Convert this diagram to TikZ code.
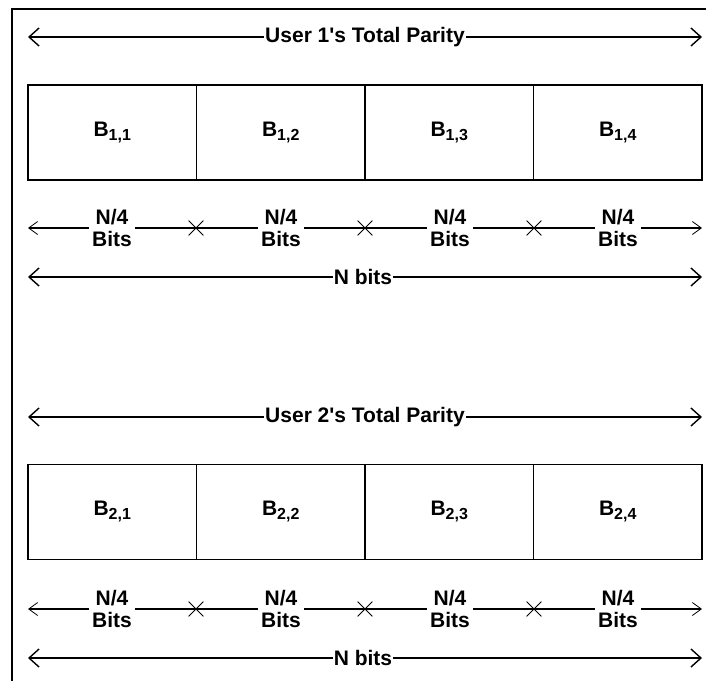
\documentclass[tikz,border=0pt]{standalone}
\usepackage{fontspec}
\setmainfont{Liberation Sans}
\usetikzlibrary{arrows.meta,shapes.misc}

\newcommand{\blk}[2]{B\raisebox{-4pt}{\fontsize{16}{16}\selectfont #1,#2}}
% straight apostrophe glyph, placed directly so no quote mapping applies
\newcommand{\apos}{\XeTeXglyph\XeTeXcharglyph"0027\relax}

\tikzset{
  lbl/.style={font=\bfseries\fontsize{21}{24}\selectfont, fill=white, inner sep=0pt, inner xsep=1pt},
  half/.style={lbl, align=center, inner xsep=3pt},
  span/.style={line width=1.9pt, -{Straight Barb[length=10pt,width=18pt,line width=1.4pt]}},
  part/.style={line width=1.1pt},
  parttip/.style={line width=1.1pt, -{Straight Barb[length=9pt,width=13pt,line width=0.8pt]}},
  blockbox/.style={draw, line width=1.4pt, minimum width=168.5pt, minimum height=95pt, inner sep=0pt,
                   outer sep=0pt, font=\bfseries\fontsize{21}{24}\selectfont},
  sep/.style={cross out, draw, line width=0.8pt, minimum size=14pt, inner sep=0pt},
}

\begin{document}
\begin{tikzpicture}[x=1pt, y=-1pt]
\useasboundingbox (0,0) rectangle (706,681);

% page frame (top and left edges)
\draw[line width=1.4pt] (706,9) -- (12,9) -- (12,681);

% ---------- user 1 ----------
\node[lbl] (u1t) at (365,37) {User 1\apos s Total Parity};
\coordinate (u1l) at (28,37);
\coordinate (u1r) at (702,37);
\draw[span] (u1t.west) -- (u1l);
\draw[span] (u1t.east) -- (u1r);

\node[blockbox] (b11) at (112.25,132.5) {\blk{1}{1}};
\node[blockbox, anchor=west] (b12) at (b11.east) {\blk{1}{2}};
\node[blockbox, anchor=west] (b13) at (b12.east) {\blk{1}{3}};
\node[blockbox, anchor=west] (b14) at (b13.east) {\blk{1}{4}};

\coordinate (p1l) at (28,228);
\coordinate (p1r) at (702,228);
\node[half] (p11) at (112,228) {N/4\\[-2pt]Bits};
\node[half] (p12) at (281,228) {N/4\\[-2pt]Bits};
\node[half] (p13) at (450,228) {N/4\\[-2pt]Bits};
\node[half] (p14) at (618,228) {N/4\\[-2pt]Bits};
\node[sep] (x11) at (196,228) {};
\node[sep] (x12) at (365,228) {};
\node[sep] (x13) at (534,228) {};
\draw[parttip] (p11.west) -- (p1l);
\draw[part] (p11.east) -- (x11.center) -- (p12.west);
\draw[part] (p12.east) -- (x12.center) -- (p13.west);
\draw[part] (p13.east) -- (x13.center) -- (p14.west);
\draw[parttip] (p14.east) -- (p1r);

\node[lbl] (n1t) at (363,277) {N bits};
\coordinate (n1l) at (28,277);
\coordinate (n1r) at (702,277);
\draw[span] (n1t.west) -- (n1l);
\draw[span] (n1t.east) -- (n1r);

% ---------- user 2 ----------
\node[lbl] (u2t) at (365,417) {User 2\apos s Total Parity};
\coordinate (u2l) at (28,417);
\coordinate (u2r) at (702,417);
\draw[span] (u2t.west) -- (u2l);
\draw[span] (u2t.east) -- (u2r);

\node[blockbox] (b21) at (112.25,512) {\blk{2}{1}};
\node[blockbox, anchor=west] (b22) at (b21.east) {\blk{2}{2}};
\node[blockbox, anchor=west] (b23) at (b22.east) {\blk{2}{3}};
\node[blockbox, anchor=west] (b24) at (b23.east) {\blk{2}{4}};

\coordinate (p2l) at (28,609);
\coordinate (p2r) at (702,609);
\node[half] (p21) at (112,609) {N/4\\[-2pt]Bits};
\node[half] (p22) at (281,609) {N/4\\[-2pt]Bits};
\node[half] (p23) at (450,609) {N/4\\[-2pt]Bits};
\node[half] (p24) at (618,609) {N/4\\[-2pt]Bits};
\node[sep] (x21) at (196,609) {};
\node[sep] (x22) at (365,609) {};
\node[sep] (x23) at (534,609) {};
\draw[parttip] (p21.west) -- (p2l);
\draw[part] (p21.east) -- (x21.center) -- (p22.west);
\draw[part] (p22.east) -- (x22.center) -- (p23.west);
\draw[part] (p23.east) -- (x23.center) -- (p24.west);
\draw[parttip] (p24.east) -- (p2r);

\node[lbl] (n2t) at (363,658) {N bits};
\coordinate (n2l) at (28,658);
\coordinate (n2r) at (702,658);
\draw[span] (n2t.west) -- (n2l);
\draw[span] (n2t.east) -- (n2r);
\end{tikzpicture}
\end{document}
